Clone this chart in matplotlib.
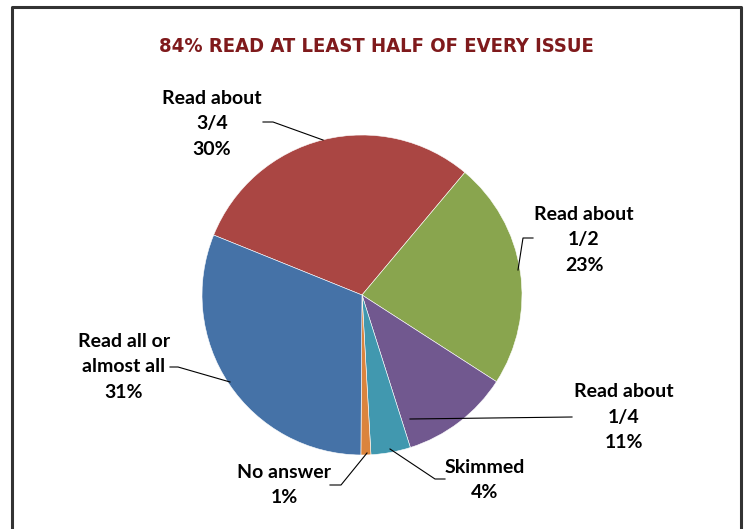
import matplotlib.pyplot as plt
from matplotlib import font_manager

# slice data, clockwise from the upper-left edge
labels = ["Read about\n3/4", "Read about\n1/2", "Read about\n1/4", "Skimmed", "No answer", "Read all or\nalmost all"]
shares = [30, 23, 11, 4, 1, 31]
colors = ["#AA4643", "#89A54E", "#71588F", "#4198AF", "#DB843D", "#4572A7"]

W, H = 745, 529

def py(y):
    # pixel row -> data y
    return H - y

# look for a condensed bold face for the title
cond = [f for f in font_manager.fontManager.ttflist
        if "condensed" in str(f.stretch).lower() or "Narrow" in f.name or "Condensed" in f.name]
title_family = cond[0].name if cond else "Roboto"
title_stretch = "condensed" if cond else "normal"
label_font = "Lato"

fig = plt.figure(figsize=(W / 100, H / 100), dpi=100)
ax = fig.add_axes([0, 0, 1, 1])
ax.axis("off")

ax.pie(shares, colors=colors, startangle=158, counterclock=False,
       center=(362, py(295)), radius=160,
       wedgeprops=dict(edgecolor="white", linewidth=0.4))
ax.set_xlim(0, W)
ax.set_ylim(0, H)
ax.set_aspect("equal")

# frame (no bottom edge)
ax.plot([12, 12, 741, 741], [0, py(7), py(7), 0], color="#333333", lw=2.2, clip_on=False)

ax.text(376, py(47), "84% READ AT LEAST HALF OF EVERY ISSUE", ha="center", va="center",
        fontsize=14.5 if cond else 15.7, fontweight="bold", fontstretch=title_stretch,
        color="#7F1A1C", family=title_family)

# label text placement (center x, center y)
label_pos = [(212, 124), (584, 240), (624, 417), (485, 480), (284, 485), (124, 367)]
for lab, s, (x, y) in zip(labels, shares, label_pos):
    ax.text(x, py(y), f"{lab}\n{s}%", ha="center", va="center", fontsize=14,
            fontweight="bold", family=label_font, linespacing=1.6, color="black")

# leader lines
leaders = [
    [(263, 122), (273, 122), (323, 140)],
    [(533, 238), (523, 238), (518, 270)],
    [(410, 419), (572, 417)],
    [(390, 449), (435, 479), (445, 479)],
    [(367, 453), (341, 485), (330, 485)],
    [(170, 367), (178, 367), (230, 382)],
]
for pts in leaders:
    ax.plot([p[0] for p in pts], [py(p[1]) for p in pts], color="black", lw=0.8)

fig.savefig("out.png", dpi=100)
